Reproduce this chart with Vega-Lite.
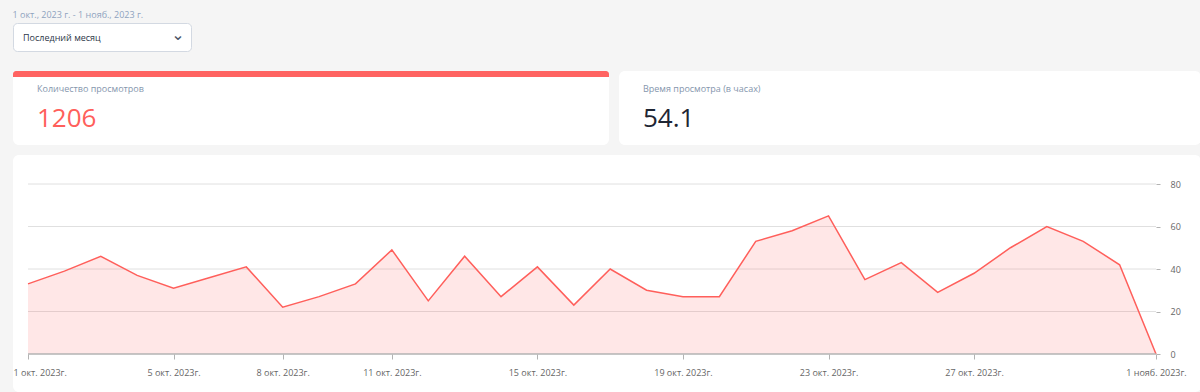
{
  "$schema": "https://vega.github.io/schema/vega-lite/v6.json",
  "background": "#f5f5f5",
  "padding": {"left": 12, "top": 10, "right": 0, "bottom": 0},
  "config": {
    "font": "Open Sans",
    "view": {"stroke": null},
    "title": {"font": "Open Sans"}
  },
  "title": {"text": "1 окт., 2023 г. - 1 нояб., 2023 г.", "anchor": "start", "fontSize": 9, "fontWeight": "normal", "color": "#8fa3bf", "offset": 3},
  "spacing": 19,
  "vconcat": [
    {
      "width": 178,
      "height": 28,
      "view": {"fill": "#ffffff", "stroke": "#d3d9e2", "strokeWidth": 1, "cornerRadius": 4},
      "data": {"values": [{"period": "Последний месяц", "icon": "⌄"}]},
      "layer": [
        {"mark": {"type": "text", "align": "left", "baseline": "middle", "dx": -79, "dy": 1, "fontSize": 9, "color": "#2d3748"}, "encoding": {"text": {"field": "period"}}},
        {"mark": {"type": "text", "align": "center", "baseline": "middle", "dx": 76, "dy": -2, "fontSize": 16, "color": "#4a5568", "font": "DejaVu Sans"}, "encoding": {"text": {"field": "icon"}}}
      ]
    },
    {
      "spacing": 10,
      "vconcat": [
        {
          "spacing": 10,
          "hconcat": [
            {
              "spacing": 0,
              "vconcat": [
                {"width": 596, "height": 6, "data": {"values": [{}]}, "mark": {"type": "rect", "color": "#ff6361", "cornerRadiusTopLeft": 6, "cornerRadiusTopRight": 6}, "encoding": {}},
                {
                  "width": 596,
                  "height": 68,
                  "data": {"values": [{"label": "Количество просмотров", "value": "1206"}]},
                  "layer": [
                    {"mark": {"type": "rect", "color": "#ffffff", "cornerRadiusBottomLeft": 6, "cornerRadiusBottomRight": 6}, "encoding": {}},
                    {"mark": {"type": "text", "align": "left", "baseline": "middle", "dx": -274, "dy": -22, "fontSize": 9, "fontWeight": "normal", "color": "#8596ad"}, "encoding": {"text": {"field": "label"}}},
                    {"mark": {"type": "text", "align": "left", "baseline": "alphabetic", "dx": -274, "dy": 16, "fontSize": 26, "color": "#ff5f5b"}, "encoding": {"text": {"field": "value"}}}
                  ]
                }
              ]
            },
            {
              "width": 582,
              "height": 74,
              "view": {"fill": "#ffffff", "cornerRadius": 6},
              "data": {"values": [{"label": "Время просмотра (в часах)", "value": "54.1"}]},
              "layer": [
                {"mark": {"type": "text", "align": "left", "baseline": "middle", "dx": -267, "dy": -19, "fontSize": 9, "fontWeight": "normal", "color": "#8596ad"}, "encoding": {"text": {"field": "label"}}},
                {"mark": {"type": "text", "align": "left", "baseline": "alphabetic", "dx": -267, "dy": 19, "fontSize": 26, "color": "#1e2533"}, "encoding": {"text": {"field": "value"}}}
              ]
            }
          ]
        },
        {
          "width": 1188,
          "height": 237,
          "view": {"fill": "#ffffff", "cornerRadius": 6},
          "data": {"values": [
            {"date": "2023-10-01", "views": 33},
            {"date": "2023-10-02", "views": 39},
            {"date": "2023-10-03", "views": 46},
            {"date": "2023-10-04", "views": 37},
            {"date": "2023-10-05", "views": 31},
            {"date": "2023-10-06", "views": 36},
            {"date": "2023-10-07", "views": 41},
            {"date": "2023-10-08", "views": 22},
            {"date": "2023-10-09", "views": 27},
            {"date": "2023-10-10", "views": 33},
            {"date": "2023-10-11", "views": 49},
            {"date": "2023-10-12", "views": 25},
            {"date": "2023-10-13", "views": 46},
            {"date": "2023-10-14", "views": 27},
            {"date": "2023-10-15", "views": 41},
            {"date": "2023-10-16", "views": 23},
            {"date": "2023-10-17", "views": 40},
            {"date": "2023-10-18", "views": 30},
            {"date": "2023-10-19", "views": 27},
            {"date": "2023-10-20", "views": 27},
            {"date": "2023-10-21", "views": 53},
            {"date": "2023-10-22", "views": 58},
            {"date": "2023-10-23", "views": 65},
            {"date": "2023-10-24", "views": 35},
            {"date": "2023-10-25", "views": 43},
            {"date": "2023-10-26", "views": 29},
            {"date": "2023-10-27", "views": 38},
            {"date": "2023-10-28", "views": 50},
            {"date": "2023-10-29", "views": 60},
            {"date": "2023-10-30", "views": 53},
            {"date": "2023-10-31", "views": 42},
            {"date": "2023-11-01", "views": 0}
          ]},
          "encoding": {
            "x": {"field": "date", "type": "temporal", "scale": {"type": "utc", "domain": [1696082783000, 1698903656600], "nice": false},
              "axis": {"orient": "bottom", "offset": -38, "title": null, "domain": false, "grid": false, "ticks": true, "tickSize": 5, "tickColor": "#b3b3b3", "tickWidth": 1, "labelFontSize": 9, "labelColor": "#666666", "labelPadding": 9, "labelFlush": 20, "labelFlushOffset": 15, "labelOverlap": false, "zindex": 2,
                "values": [
                  {"year": 2023, "month": 10, "date": 1, "utc": true},
                  {"year": 2023, "month": 10, "date": 5, "utc": true},
                  {"year": 2023, "month": 10, "date": 8, "utc": true},
                  {"year": 2023, "month": 10, "date": 11, "utc": true},
                  {"year": 2023, "month": 10, "date": 15, "utc": true},
                  {"year": 2023, "month": 10, "date": 19, "utc": true},
                  {"year": 2023, "month": 10, "date": 23, "utc": true},
                  {"year": 2023, "month": 10, "date": 27, "utc": true},
                  {"year": 2023, "month": 11, "date": 1, "utc": true}
                ],
                "labelExpr": "utcdate(datum.value) + (utcmonth(datum.value) == 9 ? ' окт. ' : ' нояб. ') + utcyear(datum.value) + 'г.'"}},
            "y": {"field": "views", "type": "quantitative", "scale": {"domain": [-17.88, 93.65], "nice": false, "zero": false},
              "axis": {"orient": "right", "offset": -45, "title": null, "values": [0, 20, 40, 60, 80], "domain": false, "grid": false, "ticks": true, "tickSize": 4, "tickColor": "#b3b3b3", "labelFontSize": 9, "labelColor": "#666666", "labelPadding": 10, "zindex": 2}}
          },
          "layer": [
            {
              "data": {"values": [{"g": 20, "d0": "2023-10-01", "d1": "2023-11-01"}, {"g": 40, "d0": "2023-10-01", "d1": "2023-11-01"}, {"g": 60, "d0": "2023-10-01", "d1": "2023-11-01"}, {"g": 80, "d0": "2023-10-01", "d1": "2023-11-01"}]},
              "mark": {"type": "rule", "color": "#e0e0e0", "strokeWidth": 1},
              "encoding": {
                "y": {"field": "g"},
                "x": {"field": "d0"},
                "x2": {"field": "d1"}
              }
            },
            {
              "mark": {"type": "area", "fill": "#ff5f5b", "fillOpacity": 0.15, "interpolate": "linear"},
              "encoding": {"y2": {"datum": 0}}
            },
            {
              "mark": {"type": "line", "color": "#ff5f5b", "strokeWidth": 1.5}
            },
            {
              "data": {"values": [{"g": 0, "d0": "2023-10-01", "d1": "2023-11-01"}]},
              "mark": {"type": "rule", "color": "#b3b3b3", "strokeWidth": 1.5},
              "encoding": {
                "y": {"field": "g"},
                "x": {"field": "d0"},
                "x2": {"field": "d1"}
              }
            }
          ]
        }
      ]
    }
  ]
}
